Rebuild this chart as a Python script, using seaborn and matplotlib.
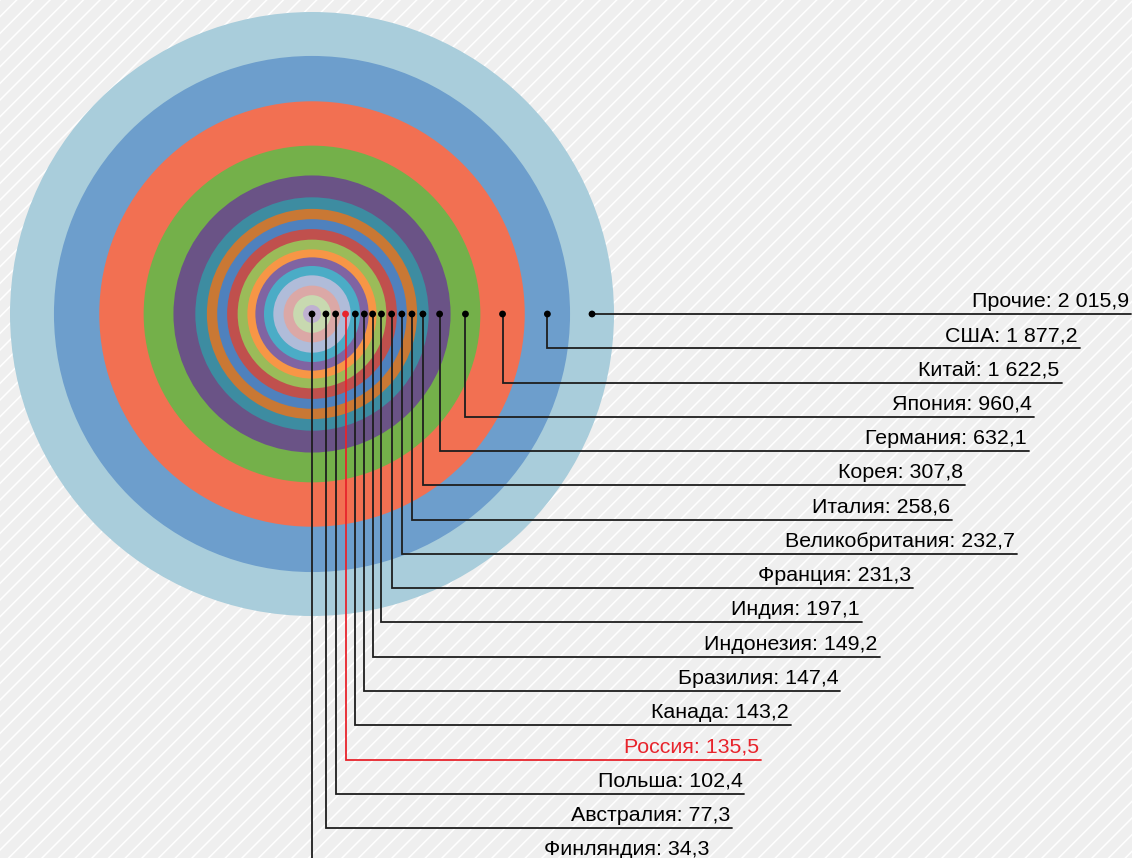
import numpy as np
import pandas as pd
import matplotlib
matplotlib.use("Agg")
import matplotlib.pyplot as plt
from matplotlib.patches import Circle, Rectangle
import seaborn as sns

# data: world R&D spending by country (outer ring -> inner disk)
countries = ["Прочие", "США", "Китай", "Япония", "Германия", "Корея", "Италия",
             "Великобритания", "Франция", "Индия", "Индонезия", "Бразилия",
             "Канада", "Россия", "Польша", "Австралия", "Финляндия"]
values = [2015.9, 1877.2, 1622.5, 960.4, 632.1, 307.8, 258.6, 232.7, 231.3,
          197.1, 149.2, 147.4, 143.2, 135.5, 102.4, 77.3, 34.3]
ring_colors = ["#a9cddb", "#6d9ecc", "#f27052", "#74b04a", "#6a5386", "#3d8ca1",
               "#c97834", "#4f81bd", "#c0504d", "#9bbb59", "#f79646", "#8064a2",
               "#4bacc6", "#b0bcd9", "#dba8a6", "#c8d9b0", "#bfb1d1"]
highlight = "Россия"


def fmt(v):
    return f"{v:,.1f}".replace(",", " ").replace(".", ",")


def main():
    sns.set_theme(style="white")
    plt.rcParams["font.family"] = ["Liberation Sans", "DejaVu Sans"]
    plt.rcParams["hatch.color"] = "white"
    plt.rcParams["hatch.linewidth"] = 1.1

    W, H = 1132, 858
    CX, CY = 312, 314          # centre of the rings
    R_MAX = 302                # radius of the outer ring
    POWER = 0.63               # radius ~ cumulative value ** POWER
    ROW0, ROW_STEP = 314, 34.27
    TX0, TX_STEP = 972, 26.75
    line_c, red = "#1e1e1e", "#e8242c"

    fig = plt.figure(figsize=(W / 100, H / 100), dpi=100)
    ax = fig.add_axes([0, 0, 1, 1])
    ax.add_patch(Rectangle((0, 0), W, H, facecolor="#efefef", edgecolor="white",
                           hatch="//", lw=0, zorder=0))

    # nested circles, sized from the cumulative sum
    vals = np.array(values)
    cum = np.cumsum(vals[::-1])[::-1]
    radii = R_MAX * (cum / cum[0]) ** POWER
    for r, c in zip(radii, ring_colors):
        ax.add_patch(Circle((CX, CY), r, facecolor=c, lw=0, zorder=1))

    inner = np.append(radii[1:], 0)
    mid = (radii + inner) / 2
    mid[-1] = 0
    n = len(countries)

    df = pd.DataFrame({"x": CX + mid, "y": [CY] * n, "country": countries})
    pal = {c: (red if c == highlight else "black") for c in countries}
    sns.scatterplot(data=df, x="x", y="y", hue="country", palette=pal, s=24,
                    linewidth=0, legend=False, zorder=5, ax=ax)
    ax.set_xlim(0, W)
    ax.set_ylim(H, 0)
    ax.axis("off")

    texts = []
    for i, (name, v) in enumerate(zip(countries, values)):
        col = red if name == highlight else "black"
        row_y = ROW0 + i * ROW_STEP
        t = ax.text(TX0 - i * TX_STEP, row_y - 7, f"{name}: {fmt(v)}",
                    ha="left", va="baseline", fontsize=15.4, color=col, zorder=6)
        texts.append(t)

    fig.canvas.draw()
    renderer = fig.canvas.get_renderer()
    inv = ax.transData.inverted()
    for i, (name, t) in enumerate(zip(countries, texts)):
        bb = t.get_window_extent(renderer)
        right = inv.transform((bb.x1, bb.y1))[0] + 2
        row_y = ROW0 + i * ROW_STEP
        col = red if name == highlight else line_c
        x0 = CX + mid[i]
        ax.plot([x0, x0, right], [CY, row_y, row_y], color=col, lw=1.3,
                solid_joinstyle="miter", zorder=4)

    fig.savefig("out.png", dpi=100)


if __name__ == '__main__':
    main()
